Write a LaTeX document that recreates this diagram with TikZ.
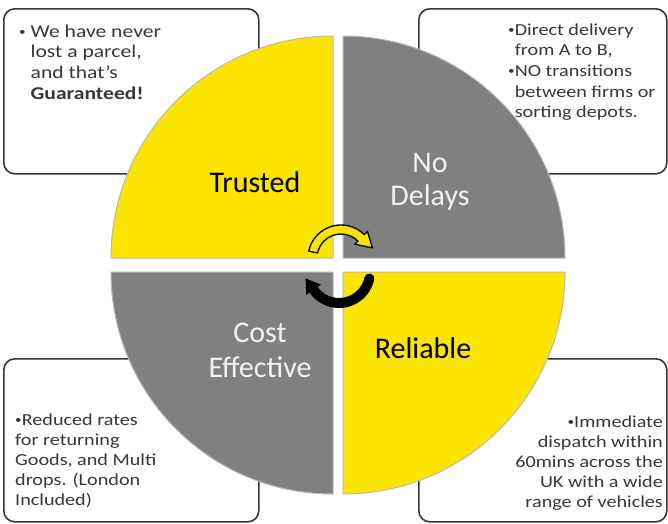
\documentclass[tikz,border=0pt]{standalone}
\usepackage{fontspec}
\setmainfont{Carlito}
\newfontfamily\boxfont[FakeStretch=1.2]{Carlito}
\usetikzlibrary{calc}
\definecolor{qyellow}{RGB}{250,228,0}
\definecolor{qgray}{RGB}{128,128,128}
\definecolor{boxline}{RGB}{55,55,55}
\definecolor{boxtext}{RGB}{55,55,55}
\definecolor{lighttext}{RGB}{242,242,242}
\newcommand{\smallbul}{{\fontsize{11}{11}\selectfont\raisebox{2pt}{•}}}
\begin{document}
\begin{tikzpicture}[x=1pt,y=-1pt,
  infobox/.style={draw=boxline, line width=1.6pt, rounded corners=11pt, fill=white, anchor=north west, inner sep=0pt},
  quad/.style={draw=black!28, line width=1pt},
  qlabel/.style={font=\fontsize{30}{35}\selectfont, inner sep=0pt, anchor=base},
  btext/.style={inner sep=0pt, text=boxtext},
]
\useasboundingbox (0,0) rectangle (668,523);
\fill[white] (0,0) rectangle (668,523);

% info boxes (behind the quadrants)
\node[infobox, minimum width=255pt, minimum height=165pt] (box1) at (3,8) {};
\node[infobox, minimum width=248pt, minimum height=165pt] (box2) at (418,8) {};
\node[infobox, minimum width=255pt, minimum height=163pt] (box3) at (3,358) {};
\node[infobox, minimum width=248pt, minimum height=163pt] (box4) at (418,358) {};

% quadrants
\filldraw[quad, fill=qyellow] (333,258) -- ++(180:222) arc[start angle=180, end angle=270, radius=222] -- cycle;
\filldraw[quad, fill=qgray] (343,258) -- ++(270:222) arc[start angle=270, end angle=360, radius=222] -- cycle;
\filldraw[quad, fill=qgray] (333,272) -- ++(90:222) arc[start angle=90, end angle=180, radius=222] -- cycle;
\filldraw[quad, fill=qyellow] (343,272) -- ++(0:222) arc[start angle=0, end angle=90, radius=222] -- cycle;

% quadrant labels
\node[qlabel] (trusted) at (255,192) {Trusted};
\node[qlabel, text=lighttext] (no) at (430,172) {No};
\node[qlabel, text=lighttext] (delays) at (430,205) {Delays};
\node[qlabel, text=lighttext] (cost) at (260,342) {Cost};
\node[qlabel, text=lighttext] (effective) at (260,377) {Effective};
\node[qlabel] (reliable) at (423,358) {Reliable};

% box texts
\node[btext, anchor=base west] (t1) at (19,37) {\parbox[t]{230pt}{\boxfont\fontsize{18}{20.7}\selectfont
 \smallbul\ We have never\\\hphantom{\smallbul\ }lost a parcel,\\\hphantom{\smallbul\ }and that’s\\\hphantom{\smallbul\ }\textbf{Guaranteed!}}};
\node[btext, anchor=base west] (t2) at (508,35) {\parbox[t]{158pt}{\boxfont\fontsize{16.8}{20.7}\selectfont
 \smallbul Direct delivery\\\hphantom{\smallbul}from A to B,\\\smallbul NO transitions\\\hphantom{\smallbul}between firms or\\\hphantom{\smallbul}sorting depots.}};
\node[btext, anchor=base west] (t3) at (15,425) {\parbox[t]{200pt}{\boxfont\fontsize{16.8}{20}\selectfont
 \smallbul Reduced rates\\for returning\\Goods, and Multi\\drops. (London\\Included)}};
\node[btext, anchor=base east] (t4) at (663,427) {\parbox[t]{200pt}{\raggedleft\boxfont\fontsize{16.8}{20}\selectfont
 \smallbul Immediate\\dispatch within\\60mins across the\\UK with a wide\\range of vehicles}};

% circular arrows
\coordinate (yc) at (341,258);
\coordinate (bc) at (339,272);
\filldraw[fill=qyellow, draw=black, line width=1.3pt, line join=round]
  ($(yc)+(-168:33)$) arc[start angle=-168, end angle=-45, radius=33]
  -- ($(yc)+(-45:37.5)$) -- ($(yc)+(-18:33)$) -- ($(yc)+(-45:19.5)$) -- ($(yc)+(-45:24)$)
  arc[start angle=-45, end angle=-168, radius=24] -- cycle;
\draw[black, line width=10pt, line cap=round] ($(bc)+(12:31)$) arc[start angle=12, end angle=150, radius=31];
\fill[black] ($(bc)+(145:40)$) -- ($(bc)+(169:34)$) -- ($(bc)+(145:22)$) -- cycle;
\end{tikzpicture}
\end{document}
